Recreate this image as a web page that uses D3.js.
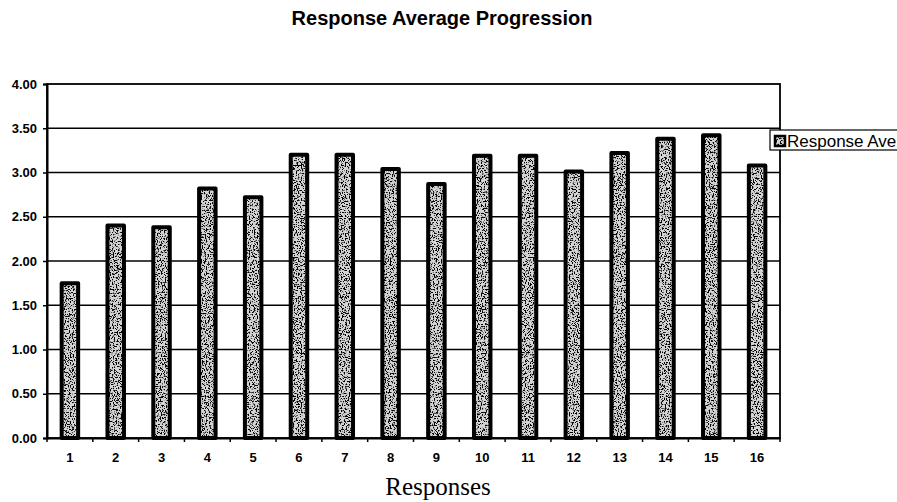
<!DOCTYPE html>
<html>
<head>
<meta charset="utf-8">
<script src="https://cdn.jsdelivr.net/npm/d3@7"></script>
<style>
  body { margin: 0; background: #fff; }
  svg { display: block; }
</style>
</head>
<body>
<svg width="897" height="502"></svg>
<script>
// chart data
let categories = ["1","2","3","4","5","6","7","8","9","10","11","12","13","14","15","16"];
let responseAvg = [1.75, 2.40, 2.38, 2.82, 2.72, 3.20, 3.20, 3.04, 2.87, 3.19, 3.19, 3.01, 3.22, 3.38, 3.42, 3.08];
let yTicks = [0, 0.5, 1, 1.5, 2, 2.5, 3, 3.5, 4];
let seriesName = "Response Average";

let svg = d3.select("svg");
let margin = { top: 84, right: 117, bottom: 64, left: 47 };
let width = 897, height = 502;
let plotW = width - margin.left - margin.right;
let plotH = height - margin.top - margin.bottom;

let x = d3.scaleBand()
    .domain(categories)
    .range([margin.left, margin.left + plotW])
    .paddingInner(0.64)
    .paddingOuter(0.32);
let y = d3.scaleLinear()
    .domain([0, 4])
    .range([margin.top + plotH, margin.top]);

// speckled fill like the scanned bars
let defs = svg.append("defs");
let f = defs.append("filter").attr("id", "noise")
    .attr("x", 0).attr("y", 0).attr("width", 1).attr("height", 1);
f.append("feTurbulence")
    .attr("type", "fractalNoise")
    .attr("baseFrequency", 0.75)
    .attr("numOctaves", 2)
    .attr("seed", 3);
f.append("feColorMatrix")
    .attr("type", "matrix")
    .attr("values", "0 0 0 0 0  0 0 0 0 0  0 0 0 0 0  9 0 0 0 -4.6");
let pat = defs.append("pattern").attr("id", "speckle")
    .attr("patternUnits", "userSpaceOnUse")
    .attr("width", 240).attr("height", 400);
pat.append("rect").attr("width", 240).attr("height", 400).attr("fill", "#d4d4d4");
pat.append("rect").attr("width", 240).attr("height", 400).attr("filter", "url(#noise)");

// title
svg.append("text")
    .attr("x", 442).attr("y", 25)
    .attr("text-anchor", "middle")
    .style("font-family", "Liberation Sans, Arial, sans-serif")
    .style("font-weight", "bold")
    .style("font-size", "20px")
    .text("Response Average Progression");

// gridlines
svg.append("g")
    .selectAll("line")
    .data(yTicks.filter(d => d > 0 && d < 4))
    .enter().append("line")
    .attr("x1", margin.left).attr("x2", margin.left + plotW)
    .attr("y1", d => y(d)).attr("y2", d => y(d))
    .attr("stroke", "#000")
    .attr("stroke-width", 1.6);

// plot frame
svg.append("rect")
    .attr("x", margin.left).attr("y", margin.top)
    .attr("width", plotW).attr("height", plotH)
    .attr("fill", "none")
    .attr("stroke", "#000")
    .attr("stroke-width", 1.8);

// bars
svg.append("g")
    .selectAll("rect")
    .data(responseAvg)
    .enter().append("rect")
    .attr("x", (d, i) => x(categories[i]))
    .attr("y", d => y(d))
    .attr("width", x.bandwidth())
    .attr("height", d => y(0) - y(d))
    .attr("fill", "url(#speckle)")
    .attr("stroke", "#000")
    .attr("stroke-width", 4)
    .attr("stroke-linejoin", "round");

// y axis
let yAxis = svg.append("g")
    .attr("transform", "translate(" + margin.left + ",0)")
    .call(d3.axisLeft(y).tickValues(yTicks).tickFormat(d3.format(".2f")).tickSize(4).tickPadding(6));
yAxis.select(".domain").attr("stroke-width", 2);
yAxis.selectAll("line").attr("stroke-width", 1.5);
yAxis.selectAll("text")
    .style("font-family", "Liberation Sans, Arial, sans-serif")
    .style("font-weight", "bold")
    .style("font-size", "13px")
    .attr("fill", "#000");

// x axis: ticks at category boundaries
let xAxis = svg.append("g")
    .attr("transform", "translate(0," + (margin.top + plotH) + ")")
    .call(d3.axisBottom(x).tickSize(0).tickPadding(15));
xAxis.select(".domain").attr("stroke-width", 2);
xAxis.selectAll("text")
    .style("font-family", "Liberation Sans, Arial, sans-serif")
    .style("font-weight", "bold")
    .style("font-size", "13px")
    .attr("fill", "#000");
let step = x.step();
xAxis.selectAll(".bound")
    .data(d3.range(categories.length + 1))
    .enter().append("line")
    .attr("class", "bound")
    .attr("x1", i => margin.left + i * step)
    .attr("x2", i => margin.left + i * step)
    .attr("y1", 0).attr("y2", 4)
    .attr("stroke", "#000")
    .attr("stroke-width", 1.5);

// axis title
svg.append("text")
    .attr("x", 438).attr("y", 495)
    .attr("text-anchor", "middle")
    .style("font-family", "Liberation Serif, Times New Roman, serif")
    .style("font-size", "25px")
    .text("Responses");

// legend (cut off by the right edge as in the original)
let lg = svg.append("g").attr("transform", "translate(770,130)");
lg.append("rect")
    .attr("width", 140).attr("height", 20)
    .attr("fill", "#fff")
    .attr("stroke", "#000")
    .attr("stroke-width", 1.2);
lg.append("rect")
    .attr("x", 5).attr("y", 6)
    .attr("width", 10).attr("height", 10)
    .attr("fill", "url(#speckle)")
    .attr("stroke", "#000")
    .attr("stroke-width", 2.5);
lg.append("text")
    .attr("x", 17).attr("y", 17)
    .style("font-family", "Liberation Sans, Arial, sans-serif")
    .style("font-size", "17px")
    .text(seriesName);
</script>
</body>
</html>
